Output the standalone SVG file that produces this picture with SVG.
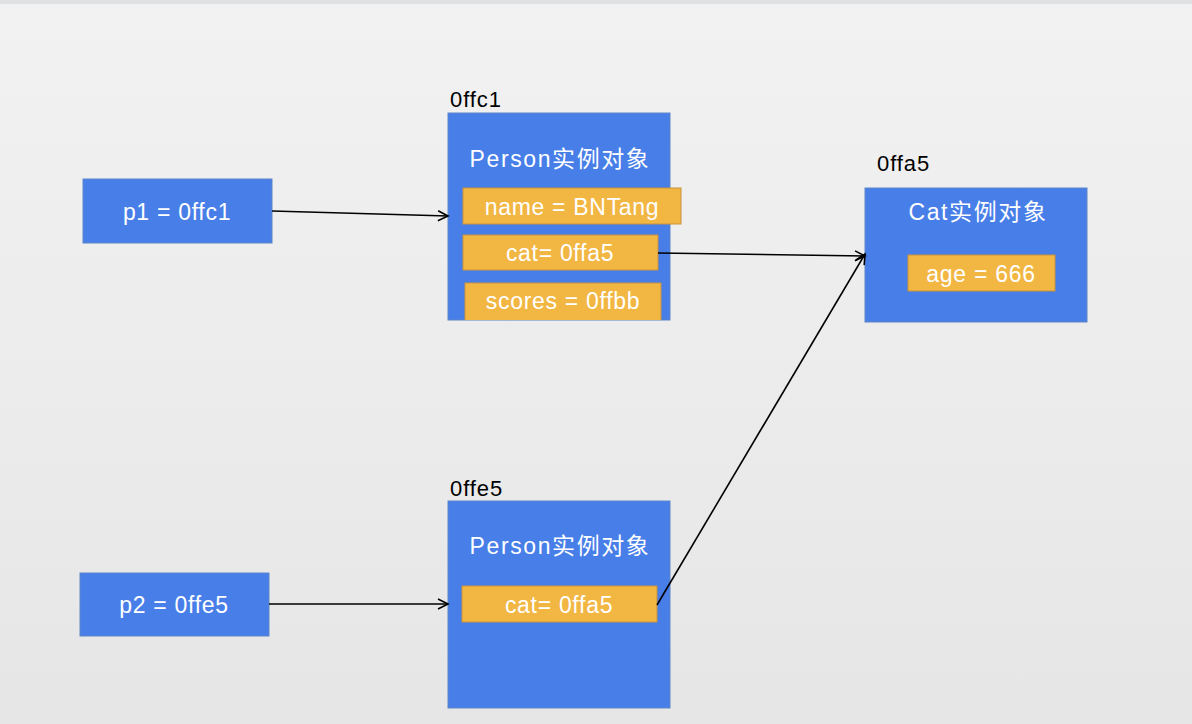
<svg xmlns="http://www.w3.org/2000/svg" width="1192" height="724" viewBox="0 0 1192 724">
<defs>
<linearGradient id="bg" x1="0" y1="0" x2="0" y2="1">
<stop offset="0" stop-color="#f2f2f2"/>
<stop offset="1" stop-color="#e7e6e6"/>
</linearGradient>
<marker id="arr" markerWidth="14" markerHeight="14" refX="11" refY="6" orient="auto" markerUnits="userSpaceOnUse">
<path d="M1,1 L11,6 L1,11" fill="none" stroke="#000" stroke-width="1.6"/>
</marker>
<clipPath id="c1"><rect x="448" y="113" width="222" height="207"/></clipPath>
</defs>
<style>
.blue{fill:#477ee8;stroke:#5f85c9;stroke-width:1}
.or{fill:#f2b643;stroke:#c8923c;stroke-width:1}
.wt{fill:#fff;font-family:"Liberation Sans","Noto Sans CJK SC",sans-serif;font-size:23px;letter-spacing:0.7px;text-anchor:middle}
.cj{letter-spacing:1.6px}
.bt{fill:#000;font-family:"Liberation Sans","Noto Sans CJK SC",sans-serif;font-size:22px;letter-spacing:0.9px}
.ln{stroke:#000;stroke-width:1.6;fill:none;marker-end:url(#arr)}
</style>
<rect x="0" y="0" width="1192" height="724" fill="url(#bg)"/>
<rect x="0" y="0" width="1192" height="4" fill="#e0e1e3"/>
<g id="p1">
<rect class="blue" x="83" y="179" width="189" height="64"/>
<text class="wt" x="177" y="220">p1 = 0ffc1</text>
</g>
<g id="p2">
<rect class="blue" x="80" y="573" width="189" height="63"/>
<text class="wt" x="174" y="613">p2 = 0ffe5</text>
</g>
<g id="person1">
<text class="bt" x="450" y="107">0ffc1</text>
<rect class="blue" x="448" y="113" width="222" height="207"/>
<text class="wt cj" x="560" y="167">Person实例对象</text>
<rect class="or" x="463" y="188" width="218" height="36"/>
<text class="wt" x="572" y="215">name = BNTang</text>
<rect class="or" x="463" y="235" width="195" height="35"/>
<text class="wt" x="560" y="261">cat= 0ffa5</text>
<g clip-path="url(#c1)">
<rect class="or" x="465" y="283" width="196" height="40"/>
</g>
<text class="wt" x="563" y="309">scores = 0ffbb</text>
</g>
<g id="person2">
<text class="bt" x="450" y="496">0ffe5</text>
<rect class="blue" x="448" y="501" width="222" height="207"/>
<text class="wt cj" x="560" y="554">Person实例对象</text>
<rect class="or" x="462" y="586" width="195" height="36"/>
<text class="wt" x="559" y="613">cat= 0ffa5</text>
</g>
<g id="cat">
<text class="bt" x="877" y="171">0ffa5</text>
<rect class="blue" x="865" y="188" width="222" height="134"/>
<text class="wt cj" x="978" y="220">Cat实例对象</text>
<rect class="or" x="908" y="255" width="147" height="36"/>
<text class="wt" x="981" y="282">age = 666</text>
</g>
<g id="connectors">
<line class="ln" x1="272" y1="211" x2="448" y2="216"/>
<line class="ln" x1="658" y1="253" x2="865" y2="256"/>
<line class="ln" x1="657" y1="605" x2="865" y2="254"/>
<line class="ln" x1="269" y1="604" x2="448" y2="604"/>
</g>
</svg>
